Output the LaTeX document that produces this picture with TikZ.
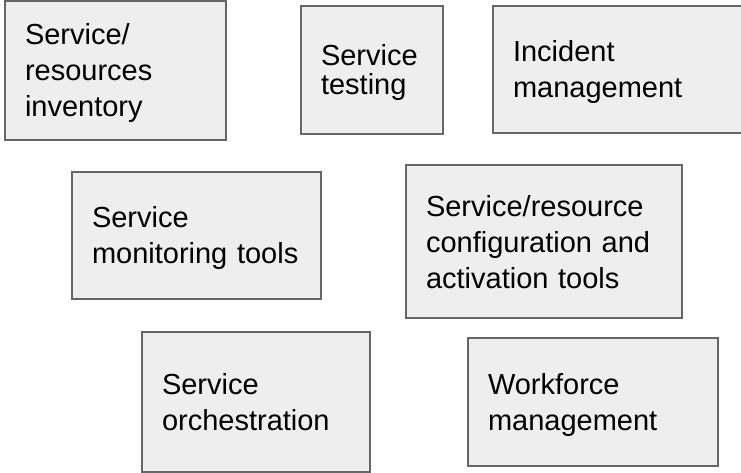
\documentclass[tikz,border=0pt]{standalone}
\usepackage{fontspec}
\setmainfont{Liberation Sans}
\usepackage{tikz}

\definecolor{boxfill}{HTML}{EEEEEE}
\definecolor{boxline}{HTML}{666666}

\begin{document}
\begin{tikzpicture}[x=1pt,y=-1pt,
    toolbox/.style={draw=boxline,fill=boxfill,line width=1.5pt,rectangle,
        align=left,inner xsep=20pt,inner ysep=0pt,
        execute at begin node={\rule{0pt}{27pt}},
        execute at end node={\rule[-6pt]{0pt}{6pt}},
        font=\fontsize{29}{36}\selectfont}]
        \useasboundingbox (0,0) rectangle (741,473);

        \node[toolbox,text width=181pt,minimum height=139pt] (inventory) at (115.5,70.5) {Service/\\resources\\inventory};
        \node[toolbox,text width=102pt,minimum height=128pt,font=\fontsize{29}{29}\selectfont] (testing) at (372,70) {Service\\testing};
        \node[toolbox,text width=212pt,minimum height=127pt] (incident) at (619,69.5) {Incident\\management};
        \node[toolbox,text width=209pt,minimum height=127pt] (monitoring) at (196.5,235.5) {Service\\monitoring tools};
        \node[toolbox,text width=236pt,minimum height=153pt] (config) at (544,241.5) {Service/resource\\configuration and\\activation tools};
        \node[toolbox,text width=188pt,minimum height=140pt] (orchestration) at (256,402) {Service\\orchestration};
        \node[toolbox,text width=210pt,minimum height=128pt] (workforce) at (593,402) {Workforce\\management};
    \end{tikzpicture}
\end{document}
